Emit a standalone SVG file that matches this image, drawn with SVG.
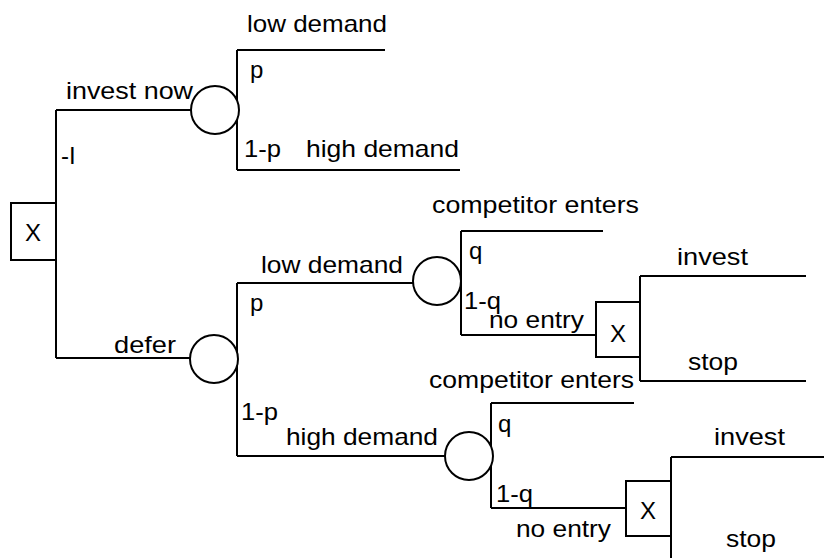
<svg xmlns="http://www.w3.org/2000/svg" width="824" height="558" viewBox="0 0 824 558">
<style>
text{font-family:"Liberation Sans",Arial,sans-serif;font-size:24px;fill:#000}
.ln{stroke:#000;stroke-width:2;fill:none}
.nd{stroke:#000;stroke-width:2;fill:#fff}
.m{text-anchor:middle}
</style>
<rect width="824" height="558" fill="#fff"/>
<g id="connectors">
<path class="ln" d="M56,110V358M56,110H191M56,358H190"/>
<path class="ln" d="M237,50V170M237,50H385M237,170H460"/>
<path class="ln" d="M237,283V456M237,283H413M237,456H445"/>
<path class="ln" d="M461,231V335M461,231H603M461,335H596"/>
<path class="ln" d="M640,276V381M640,276H806M640,381H806"/>
<path class="ln" d="M491,403V508M491,403H634M491,508H626"/>
<path class="ln" d="M671,457V558M671,457H824"/>
</g>
<g id="d1"><rect class="nd" x="11" y="203" width="45" height="57"/><text class="m" x="33" y="241">X</text></g>
<g id="c1"><circle class="nd" cx="215" cy="110" r="24"/></g>
<g id="c2"><circle class="nd" cx="214" cy="359" r="24"/></g>
<g id="c3"><circle class="nd" cx="437" cy="281" r="24"/></g>
<g id="c4"><circle class="nd" cx="469" cy="456" r="24"/></g>
<g id="d2"><rect class="nd" x="596" y="302" width="44" height="55"/><text class="m" x="618" y="342">X</text></g>
<g id="d3"><rect class="nd" x="626" y="481" width="45" height="55"/><text class="m" x="648" y="519">X</text></g>
<g id="labels">
<text x="247" y="32" textLength="140" lengthAdjust="spacingAndGlyphs">low demand</text>
<text x="66" y="99" textLength="127" lengthAdjust="spacingAndGlyphs">invest now</text>
<text x="61" y="164">-I</text>
<text x="250" y="78">p</text>
<text x="244" y="157" textLength="37" lengthAdjust="spacingAndGlyphs">1-p</text>
<text x="306" y="157" textLength="153" lengthAdjust="spacingAndGlyphs">high demand</text>
<text x="114" y="353" textLength="62" lengthAdjust="spacingAndGlyphs">defer</text>
<text x="261" y="273" textLength="142" lengthAdjust="spacingAndGlyphs">low demand</text>
<text x="250" y="311">p</text>
<text x="241" y="420" textLength="37" lengthAdjust="spacingAndGlyphs">1-p</text>
<text x="286" y="445" textLength="152" lengthAdjust="spacingAndGlyphs">high demand</text>
<text x="432" y="213" textLength="207" lengthAdjust="spacingAndGlyphs">competitor enters</text>
<text x="469" y="259">q</text>
<text x="464" y="309" textLength="37" lengthAdjust="spacingAndGlyphs">1-q</text>
<text x="489" y="328" textLength="95" lengthAdjust="spacingAndGlyphs">no entry</text>
<text x="677" y="265" textLength="71" lengthAdjust="spacingAndGlyphs">invest</text>
<text x="688" y="370" textLength="50" lengthAdjust="spacingAndGlyphs">stop</text>
<text x="429" y="388" textLength="205" lengthAdjust="spacingAndGlyphs">competitor enters</text>
<text x="498" y="432">q</text>
<text x="496" y="502" textLength="37" lengthAdjust="spacingAndGlyphs">1-q</text>
<text x="516" y="537" textLength="95" lengthAdjust="spacingAndGlyphs">no entry</text>
<text x="714" y="445" textLength="71" lengthAdjust="spacingAndGlyphs">invest</text>
<text x="726" y="547" textLength="50" lengthAdjust="spacingAndGlyphs">stop</text>
</g>
</svg>
